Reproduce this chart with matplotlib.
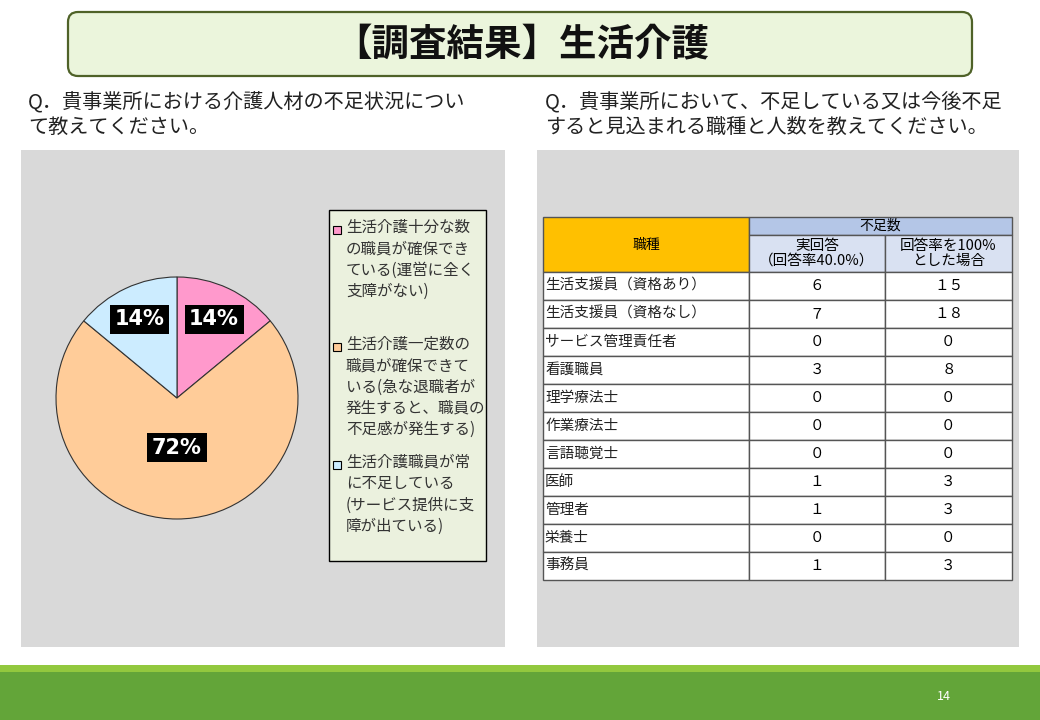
import matplotlib
matplotlib.use("Agg")
import matplotlib.pyplot as plt
from matplotlib.patches import FancyBboxPatch, Rectangle
import numpy as np

plt.rcParams["font.family"] = ["Noto Sans CJK JP", "DejaVu Sans"]

# --- data ---
title = "【調査結果】生活介護"
q_left = "Q．貴事業所における介護人材の不足状況につい\nて教えてください。"
q_right = "Q．貴事業所において、不足している又は今後不足\nすると見込まれる職種と人数を教えてください。"

pie_labels = [
    "生活介護十分な数\nの職員が確保でき\nている(運営に全く\n支障がない)",
    "生活介護一定数の\n職員が確保できて\nいる(急な退職者が\n発生すると、職員の\n不足感が発生する)",
    "生活介護職員が常\nに不足している\n(サービス提供に支\n障が出ている)",
]
pie_values = [14, 72, 14]
pie_colors = ["#FF99CC", "#FFCC99", "#CCECFF"]

jobs = ["生活支援員（資格あり）", "生活支援員（資格なし）", "サービス管理責任者",
        "看護職員", "理学療法士", "作業療法士", "言語聴覚士", "医師", "管理者",
        "栄養士", "事務員"]
actual = [6, 7, 0, 3, 0, 0, 0, 1, 1, 0, 1]
full_rate = [15, 18, 0, 8, 0, 0, 0, 3, 3, 0, 3]
col_headers = ["職種", "不足数", "実回答\n（回答率40.0%）", "回答率を100%\nとした場合"]
page_no = "14"


def zen(n):
    # full-width digits like the original slide font
    return str(n).translate(str.maketrans("0123456789", "０１２３４５６７８９"))


fig = plt.figure(figsize=(10.4, 7.2), dpi=100)
bg = fig.add_axes([0, 0, 1, 1])
bg.set_xlim(0, 1040)
bg.set_ylim(720, 0)
bg.axis("off")

# title box
bg.add_patch(FancyBboxPatch((68, 12), 904, 64, boxstyle="round,pad=0,rounding_size=10",
                            fc="#EBF5DC", ec="#4F6228", lw=1.6))
bg.text(522, 45, title, ha="center", va="center", fontsize=27, fontweight="bold", color="#111111")

# questions
bg.text(28, 115, q_left, ha="left", va="center", fontsize=14.5, linespacing=1.25, color="#222222")
bg.text(545, 115, q_right, ha="left", va="center", fontsize=14.5, linespacing=1.25, color="#222222")

# gray panels
bg.add_patch(Rectangle((21, 150), 484, 497, fc="#D9D9D9", ec="none"))
bg.add_patch(Rectangle((537, 150), 482, 497, fc="#D9D9D9", ec="none"))

# bottom band
bg.add_patch(Rectangle((0, 665), 1040, 8, fc="#92C83E", ec="none"))
bg.add_patch(Rectangle((0, 672), 1040, 48, fc="#63A539", ec="none"))
bg.text(944, 697, page_no, ha="center", va="center", fontsize=9, color="white")

# legend box
bg.add_patch(Rectangle((329, 210), 157, 351, fc="#EBF1DE", ec="black", lw=1))
leg_y = [219, 336, 454]
for lab, col, y in zip(pie_labels, pie_colors, leg_y):
    bg.add_patch(Rectangle((333, y + 7), 8, 8, fc=col, ec="black", lw=0.8))
    bg.text(346, y, lab, ha="left", va="top", fontsize=11.2, linespacing=1.33, color="#333333")

# pie
pax = fig.add_axes([56 / 1040, (720 - 519) / 720, 242 / 1040, 242 / 720])
wedges, _ = pax.pie(pie_values, colors=pie_colors, startangle=90, counterclock=False,
                    wedgeprops=dict(edgecolor="#333333", linewidth=0.8))
pax.set_xlim(-1, 1)
pax.set_ylim(-1, 1)
pax.set_aspect("auto")
dists = [0.72, 0.41, 0.72]
for w, v, d in zip(wedges, pie_values, dists):
    ang = np.deg2rad((w.theta1 + w.theta2) / 2)
    pax.text(d * np.cos(ang), d * np.sin(ang), f"{v}%", ha="center", va="center",
             fontsize=15, fontweight="bold", color="white", family=["DejaVu Sans"],
             bbox=dict(boxstyle="square,pad=0.22", fc="black", ec="none"))

# table
cx = [543, 749, 885, 1012]
top = 217
h1, h2 = 18, 37
row_h = 28
lc = "#555555"
bg.add_patch(Rectangle((cx[0], top), cx[1] - cx[0], h1 + h2, fc="#FFC000", ec=lc, lw=1))
bg.add_patch(Rectangle((cx[1], top), cx[3] - cx[1], h1, fc="#B4C6E7", ec=lc, lw=1))
bg.add_patch(Rectangle((cx[1], top + h1), cx[2] - cx[1], h2, fc="#D9E1F2", ec=lc, lw=1))
bg.add_patch(Rectangle((cx[2], top + h1), cx[3] - cx[2], h2, fc="#D9E1F2", ec=lc, lw=1))
bg.text((cx[0] + cx[1]) / 2, top + (h1 + h2) / 2, col_headers[0], ha="center", va="center", fontsize=10)
bg.text((cx[1] + cx[3]) / 2, top + h1 / 2, col_headers[1], ha="center", va="center", fontsize=10)
bg.text((cx[1] + cx[2]) / 2, top + h1 + h2 / 2, col_headers[2], ha="center", va="center",
        fontsize=10.5, linespacing=1.1)
bg.text((cx[2] + cx[3]) / 2, top + h1 + h2 / 2, col_headers[3], ha="center", va="center",
        fontsize=10.5, linespacing=1.1)

y0 = top + h1 + h2
for i, (job, a, f) in enumerate(zip(jobs, actual, full_rate)):
    y = y0 + i * row_h
    for j in range(3):
        bg.add_patch(Rectangle((cx[j], y), cx[j + 1] - cx[j], row_h, fc="white", ec=lc, lw=1))
    bg.text(cx[0] + 2, y + row_h / 2, job, ha="left", va="center", fontsize=10.5, color="#222222")
    bg.text((cx[1] + cx[2]) / 2, y + row_h / 2, zen(a), ha="center", va="center", fontsize=10.5)
    bg.text((cx[2] + cx[3]) / 2, y + row_h / 2, zen(f), ha="center", va="center", fontsize=10.5)

fig.savefig("out.png", dpi=100)
